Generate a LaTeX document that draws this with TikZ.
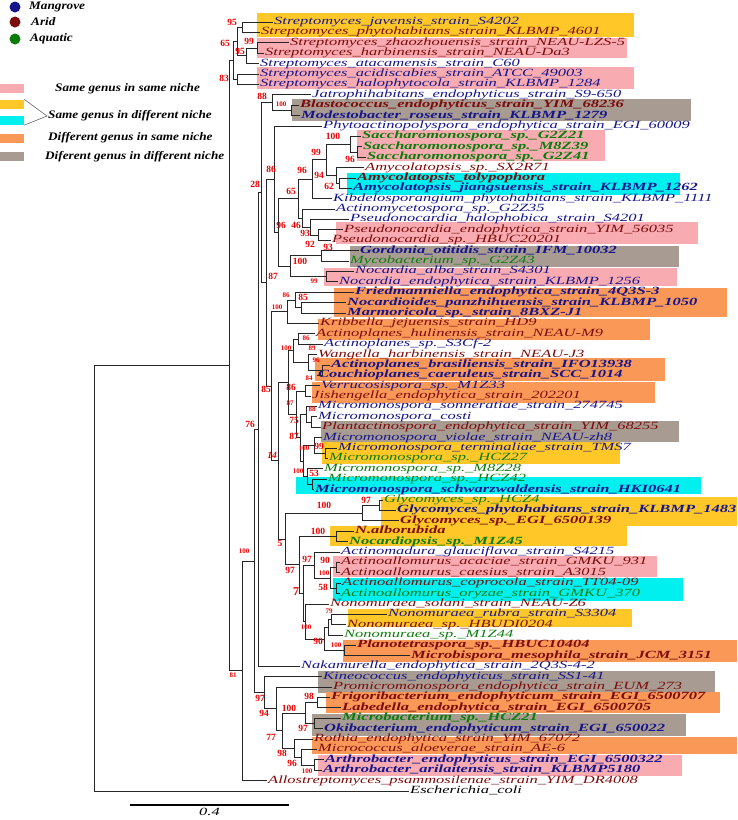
\documentclass[tikz,border=0pt]{standalone}
\usepackage{fontspec}
\setmainfont{Liberation Serif}
\newfontfamily\leaffont[FakeStretch=1.5]{Liberation Serif}
\newfontfamily\legfont[FakeStretch=1.15]{Liberation Serif}

\definecolor{mangrove}{RGB}{22,22,140}
\definecolor{arid}{RGB}{125,12,12}
\definecolor{aquatic}{RGB}{12,125,12}
\definecolor{bootred}{RGB}{235,0,0}
\definecolor{hlpink}{RGB}{248,172,178}
\definecolor{hlyellow}{RGB}{255,200,40}
\definecolor{hlcyan}{RGB}{0,240,240}
\definecolor{hlorange}{RGB}{250,152,88}
\definecolor{hlgray}{RGB}{168,155,145}

\tikzset{
  branch/.style={draw=black!85, line width=0.7pt},
  leaf/.style={anchor=west, inner xsep=1pt, inner ysep=0pt, text height=7pt, text depth=2pt,
    font=\leaffont\itshape\fontsize{11}{12}\selectfont},
  leafb/.style={leaf, font=\leaffont\bfseries\itshape\fontsize{11}{12}\selectfont},
  mg/.style={text=mangrove}, ar/.style={text=arid}, aq/.style={text=aquatic},
  boot/.style={text=bootred, inner sep=0pt, font=\bfseries\fontsize{9.5}{10}\selectfont},
  boots/.style={boot, font=\bfseries\fontsize{7}{8}\selectfont},
  legdot/.style={circle, inner sep=0pt, minimum size=11pt},
  legbox/.style={inner sep=0pt, minimum width=24pt, minimum height=9pt},
  legtext/.style={anchor=west, inner sep=0pt, font=\legfont\bfseries\itshape\fontsize{11.5}{12}\selectfont}
}

% clade: name, x of the node, first child, second child
\newcommand\clade[4]{%
  \path (#3) -- coordinate[midway] (mid#1) (#4);
  \coordinate (#1) at (mid#1 -| #2,0);
  \draw[branch] (#1) |- (#3);
  \draw[branch] (#1) |- (#4);}

\begin{document}
\begin{tikzpicture}[x=1pt,y=-1pt]
  \useasboundingbox (0,0) rectangle (737,820);

  % legend
  \node[legdot, fill=mangrove] (dotmg) at (15,7) {};
  \node[legdot, fill=arid] (dotar) at (15,22) {};
  \node[legdot, fill=aquatic] (dotaq) at (15,39) {};
  \node[legtext] (txtmg) at (29,7) {Mangrove};
  \node[legtext] (txtar) at (31,22) {Arid};
  \node[legtext] (txtaq) at (30,39) {Aquatic};
  \node[legbox, fill=hlpink] (boxpink) at (12,88.5) {};
  \node[legbox, fill=hlyellow] (boxyellow) at (12,104) {};
  \node[legbox, fill=hlcyan] (boxcyan) at (12,120.5) {};
  \node[legbox, fill=hlorange] (boxorange) at (12,138.5) {};
  \node[legbox, fill=hlgray] (boxgray) at (12,156.5) {};
  \coordinate (brtip) at (47,116);
  \draw[black!60, line width=0.6pt] (boxyellow.north east) -- (brtip) -- (boxcyan.south east);
  \node[legtext] (txtpink) at (55,88.7) {Same genus in same niche};
  \node[legtext] (txtsame) at (48,116) {Same genus in different niche};
  \node[legtext] (txtorange) at (48,138) {Different genus in same niche};
  \node[legtext] (txtgray) at (45,157) {Diferent genus in different niche};

  % highlight boxes
  \fill[hlyellow] (257,12.5) rectangle (634,37);
  \fill[hlpink] (257,37.5) rectangle (627,57.5);
  \fill[hlpink] (257,67) rectangle (634,89);
  \fill[hlgray] (292,99) rectangle (691,121);
  \fill[hlpink] (357,130) rectangle (605,161);
  \fill[hlcyan] (347,173) rectangle (680,195);
  \fill[hlpink] (336,222) rectangle (698,244);
  \fill[hlgray] (350,246) rectangle (679,267);
  \fill[hlpink] (324,268) rectangle (677,286);
  \fill[hlorange] (334,288) rectangle (727,317);
  \fill[hlorange] (318,319) rectangle (650,340);
  \fill[hlorange] (315,358) rectangle (665,381);
  \fill[hlorange] (312,382) rectangle (655,403);
  \fill[hlgray] (321,421) rectangle (679,442);
  \fill[hlyellow] (322,442) rectangle (620,464);
  \fill[hlcyan] (296,477) rectangle (701,494);
  \fill[hlyellow] (381,497) rectangle (737,526);
  \fill[hlyellow] (330,526) rectangle (627,546);
  \fill[hlpink] (333,556) rectangle (657,577);
  \fill[hlcyan] (333,578) rectangle (683,601);
  \fill[hlyellow] (348,609) rectangle (632,627);
  \fill[hlorange] (343,640) rectangle (737,662);
  \fill[hlgray] (318,671) rectangle (715,693);
  \fill[hlorange] (326,692) rectangle (720,713);
  \fill[hlgray] (312,714) rectangle (686,736);
  \fill[hlorange] (312,737) rectangle (737,754);
  \fill[hlpink] (318,755) rectangle (682,776);

  % leaves
  \node[leaf,mg] (javensis) at (273,22.0) {Streptomyces\_javensis\_strain\_S4202};
  \node[leaf,ar] (phytohab) at (260,32.4) {Streptomyces\_phytohabitans\_strain\_KLBMP\_4601};
  \node[leaf,ar] (zhaozh) at (289,42.8) {Streptomyces\_zhaozhouensis\_strain\_NEAU-LZS-5};
  \node[leaf,ar] (harbin) at (264,53.2) {Streptomyces\_harbinensis\_strain\_NEAU-Da3};
  \node[leaf,mg] (atacam) at (259,63.6) {Streptomyces\_atacamensis\_strain\_C60};
  \node[leaf,mg] (acidis) at (259,73.9) {Streptomyces\_acidiscabies\_strain\_ATCC\_49003};
  \node[leaf,mg] (halophy) at (259,84.3) {Streptomyces\_halophytocola\_strain\_KLBMP\_1284};
  \node[leaf,mg] (jatroph) at (311,94.7) {Jatrophihabitans\_endophyticus\_strain\_S9-650};
  \node[leafb,ar] (blasto) at (299,105.1) {Blastococcus\_endophyticus\_strain\_YIM\_68236};
  \node[leafb,mg] (modesto) at (300,115.5) {Modestobacter\_roseus\_strain\_KLBMP\_1279};
  \node[leaf,mg] (phytoact) at (322,125.9) {Phytoactinopolyspora\_endophytica\_strain\_EGI\_60009};
  \node[leafb,aq] (sacchA) at (361,136.3) {Saccharomonospora\_sp.\_G2Z21};
  \node[leafb,aq] (sacchB) at (362,146.7) {Saccharomonospora\_sp.\_M8Z39};
  \node[leafb,aq] (sacchC) at (366,157.1) {Saccharomonospora\_sp.\_G2Z41};
  \node[leaf,ar] (amycoA) at (364,167.5) {Amycolatopsis\_sp.\_SX2R71};
  \node[leafb,ar] (amycoB) at (356,177.9) {Amycolatopsis\_tolypophora};
  \node[leafb,mg] (amycoC) at (352,188.2) {Amycolatopsis\_jiangsuensis\_strain\_KLBMP\_1262};
  \node[leaf,mg] (kibdelo) at (332,198.6) {Kibdelosporangium\_phytohabitans\_strain\_KLBMP\_1111};
  \node[leaf,mg] (actmyc) at (335,209.0) {Actinomycetospora\_sp.\_G2Z35};
  \node[leaf,mg] (pseudoA) at (349,219.4) {Pseudonocardia\_halophobica\_strain\_S4201};
  \node[leaf,ar] (pseudoB) at (343,229.8) {Pseudonocardia\_endophytica\_strain\_YIM\_56035};
  \node[leaf,ar] (pseudoC) at (331,240.2) {Pseudonocardia\_sp.\_HBUC20201};
  \node[leafb,mg] (gordonia) at (359,250.6) {Gordonia\_otitidis\_strain\_IFM\_10032};
  \node[leaf,aq] (mycobac) at (349,261.0) {Mycobacterium\_sp.\_G2Z43};
  \node[leaf,mg] (nocardA) at (354,271.4) {Nocardia\_alba\_strain\_S4301};
  \node[leaf,mg] (nocardB) at (338,281.8) {Nocardia\_endophytica\_strain\_KLBMP\_1256};
  \node[leafb,mg] (friedm) at (354,292.2) {Friedmanniella\_endophytica\_strain\_4Q3S-3};
  \node[leafb,mg] (nocardioid) at (346,302.5) {Nocardioides\_panzhihuensis\_strain\_KLBMP\_1050};
  \node[leafb,mg] (marmor) at (346,312.9) {Marmoricola\_sp.\_strain\_8BXZ-J1};
  \node[leaf,ar] (kribbella) at (319,323.3) {Kribbella\_jejuensis\_strain\_HD9};
  \node[leaf,ar] (actplA) at (315,333.7) {Actinoplanes\_hulinensis\_strain\_NEAU-M9};
  \node[leaf,mg] (actplB) at (323,344.1) {Actinoplanes\_sp.\_S3Cf-2};
  \node[leaf,ar] (wangella) at (317,354.5) {Wangella\_harbinensis\_strain\_NEAU-J3};
  \node[leafb,mg] (actplC) at (330,364.9) {Actinoplanes\_brasiliensis\_strain\_IFO13938};
  \node[leafb,mg] (couchio) at (317,375.3) {Couchioplanes\_caeruleus\_strain\_SCC\_1014};
  \node[leaf,mg] (verruco) at (320,385.7) {Verrucosispora\_sp.\_M1Z33};
  \node[leaf,ar] (jisheng) at (311,396.1) {Jishengella\_endophytica\_strain\_202201};
  \node[leaf,mg] (micromA) at (317,406.4) {Micromonospora\_sonneratiae\_strain\_274745};
  \node[leaf,mg] (micromB) at (317,416.8) {Micromonospora\_costi};
  \node[leaf,ar] (plantact) at (321,427.2) {Plantactinospora\_endophytica\_strain\_YIM\_68255};
  \node[leaf,mg] (micromC) at (322,437.6) {Micromonospora\_violae\_strain\_NEAU-zh8};
  \node[leaf,mg] (micromD) at (337,448.0) {Micromonospora\_terminaliae\_strain\_TMS7};
  \node[leaf,aq] (micromE) at (328,458.4) {Micromonospora\_sp.\_HCZ27};
  \node[leaf,aq] (micromF) at (323,468.8) {Micromonospora\_sp.\_M8Z28};
  \node[leaf,aq] (micromG) at (327,479.2) {Micromonospora\_sp.\_HCZ42};
  \node[leafb,mg] (micromH) at (314,489.6) {Micromonospora\_schwarzwaldensis\_strain\_HKI0641};
  \node[leaf,aq] (glycoA) at (383,500.0) {Glycomyces\_sp.\_HCZ4};
  \node[leafb,mg] (glycoB) at (396,510.4) {Glycomyces\_phytohabitans\_strain\_KLBMP\_1483};
  \node[leafb,ar] (glycoC) at (399,520.8) {Glycomyces\_sp.\_EGI\_6500139};
  \node[leafb,ar] (nalbo) at (354,531.1) {N.alborubida};
  \node[leafb,aq] (nocardiop) at (348,541.5) {Nocardiopsis\_sp.\_M1Z45};
  \node[leaf,mg] (actmad) at (340,551.9) {Actinomadura\_glauciflava\_strain\_S4215};
  \node[leaf,ar] (actalA) at (340,562.3) {Actinoallomurus\_acaciae\_strain\_GMKU\_931};
  \node[leaf,ar] (actalB) at (340,572.7) {Actinoallomurus\_caesius\_strain\_A3015};
  \node[leaf,ar] (actalC) at (341,583.1) {Actinoallomurus\_coprocola\_strain\_TT04-09};
  \node[leaf,aq] (actalD) at (340,593.5) {Actinoallomurus\_oryzae\_strain\_GMKU\_370};
  \node[leaf,ar] (nonoA) at (329,603.9) {Nonomuraea\_solani\_strain\_NEAU-Z6};
  \node[leaf,mg] (nonoB) at (387,614.3) {Nonomuraea\_rubra\_strain\_S3304};
  \node[leaf,ar] (nonoC) at (346,624.7) {Nonomuraea\_sp.\_HBUDI0204};
  \node[leaf,aq] (nonoD) at (343,635.1) {Nonomuraea\_sp.\_M1Z44};
  \node[leafb,ar] (planotet) at (356,645.4) {Planotetraspora\_sp.\_HBUC10404};
  \node[leafb,ar] (microbisp) at (410,655.8) {Microbispora\_mesophila\_strain\_JCM\_3151};
  \node[leaf,mg] (nakamur) at (300,666.2) {Nakamurella\_endophytica\_strain\_2Q3S-4-2};
  \node[leaf,mg] (kineoc) at (322,676.6) {Kineococcus\_endophyticus\_strain\_SS1-41};
  \node[leaf,ar] (promicro) at (332,687.0) {Promicromonospora\_endophytica\_strain\_EUM\_273};
  \node[leafb,ar] (frigo) at (330,697.4) {Frigoribacterium\_endophyticum\_strain\_EGI\_6500707};
  \node[leafb,ar] (labedella) at (341,707.8) {Labedella\_endophytica\_strain\_EGI\_6500705};
  \node[leafb,aq] (microbac) at (341,718.2) {Microbacterium\_sp.\_HCZ21};
  \node[leafb,mg] (okibac) at (323,728.6) {Okibacterium\_endophyticum\_strain\_EGI\_650022};
  \node[leaf,ar] (rothia) at (313,739.0) {Rothia\_endophytica\_strain\_YIM\_67072};
  \node[leaf,ar] (micrococ) at (317,749.4) {Micrococcus\_aloeverae\_strain\_AE-6};
  \node[leafb,mg] (arthroA) at (324,759.7) {Arthrobacter\_endophyticus\_strain\_EGI\_6500322};
  \node[leafb,mg] (arthroB) at (322,770.1) {Arthrobacter\_arilaitensis\_strain\_KLBMP5180};
  \node[leaf,ar] (allostr) at (267,780.5) {Allostreptomyces\_psammosilenae\_strain\_YIM\_DR4008};
  \node[leaf] (ecoli) at (409,790.9) {Escherichia\_coli};

  % tree
  \clade{s95a}{242}{javensis.west}{phytohab.west}
  \clade{s99}{257}{zhaozh.west}{harbin.west}
  \clade{s95b}{246}{s99}{atacam.west}
  \clade{s65}{237}{s95a}{s95b}
  \clade{s83}{237}{acidis.west}{halophy.west}
  \clade{strep}{233}{s65}{s83}
  \clade{nA100}{291}{blasto.west}{modesto.west}
  \clade{nA88}{272}{jatroph.west}{nA100}
  \clade{nS96}{357}{sacchB.west}{sacchC.west}
  \clade{nS100}{350}{sacchA.west}{nS96}
  \clade{nAm62}{339}{amycoB.west}{amycoC.west}
  \clade{nAm94}{336}{amycoA.west}{nAm62}
  \clade{nB99}{326}{nS100}{nAm94}
  \clade{nB96}{312}{nB99}{kibdelo.west}
  \clade{nP93}{318}{pseudoB.west}{pseudoC.west}
  \clade{nP46}{310}{pseudoA.west}{nP93}
  \clade{nP}{302}{actmyc.west}{nP46}
  \clade{nB65}{298}{nB96}{nP}
  \clade{nC93}{321}{gordonia.west}{mycobac.west}
  \clade{nNoc}{326}{nocardA.west}{nocardB.west}
  \clade{nC100}{290}{nC93}{nNoc}
  \clade{n96c}{278}{nB65}{nC100}
  \clade{n86b}{274}{phytoact.west}{n96c}
  \clade{nF85}{301}{nocardioid.west}{marmor.west}
  \clade{nF86}{295}{friedm.west}{nF85}
  \clade{nF100}{287}{nF86}{kribbella.west}
  \clade{nD86}{298}{actplA.west}{actplB.west}
  \clade{nD96}{322}{actplC.west}{couchio.west}
  \clade{nD89}{308}{wangella.west}{nD96}
  \clade{nD100}{293}{nD86}{nD89}
  \clade{nV86}{305}{verruco.west}{jisheng.west}
  \clade{nM88}{311}{micromB.west}{plantact.west}
  \clade{nM75}{306}{micromA.west}{nM88}
  \clade{nM99}{325}{micromD.west}{micromE.west}
  \clade{nM100a}{314}{micromC.west}{nM99}
  \clade{nM100c}{312}{micromG.west}{micromH.west}
  \clade{nM53}{307}{micromF.west}{nM100c}
  \clade{nM100b}{303}{nM100a}{nM53}
  \clade{nM87}{300}{nM75}{nM100b}
  \clade{nVM87}{296}{nV86}{nM87}
  \clade{nDM}{288}{nD100}{nVM87}
  \clade{nG97}{379}{glycoA.west}{glycoB.west}
  \clade{nG100}{362}{nG97}{glycoC.west}
  \clade{nN100}{336}{nalbo.west}{nocardiop.west}
  \clade{nAa90}{336}{actalA.west}{actalB.west}
  \clade{nAa58}{336}{actalC.west}{actalD.west}
  \clade{nAa100}{330}{nAa90}{nAa58}
  \clade{nAa97}{314}{actmad.west}{nAa100}
  \clade{nNo79}{331}{nonoB.west}{nonoC.west}
  \clade{nNoA}{328}{nNo79}{nonoD.west}
  \clade{nPl100}{344}{planotet.west}{microbisp.west}
  \clade{nNo90}{324}{nNoA}{nPl100}
  \clade{nNo100}{305}{nonoA.west}{nNo90}
  \clade{n7}{303}{nAa97}{nNo100}
  \clade{n97b}{299}{nN100}{n7}
  \clade{n5}{285}{nG100}{n97b}
  \clade{n14}{278}{nDM}{n5}
  \clade{n85}{271}{nF100}{n14}
  \clade{n87}{266}{n86b}{n85}
  \clade{n28}{261}{nA88}{n87}
  \clade{n76}{258}{n28}{nakamur.west}
  \clade{n98f}{317}{frigo.west}{labedella.west}
  \clade{n97m}{314}{microbac.west}{okibac.west}
  \clade{n100m}{305}{n98f}{n97m}
  \clade{nArt}{314}{arthroA.west}{arthroB.west}
  \clade{n96a}{301}{micrococ.west}{nArt}
  \clade{n98r}{294}{rothia.west}{n96a}
  \clade{n77}{282}{n100m}{n98r}
  \clade{n94}{276}{promicro.west}{n77}
  \clade{n97k}{264}{kineoc.west}{n94}
  \clade{n100}{254}{n76}{n97k}
  \clade{n81}{242}{n100}{allostr.west}
  \clade{n229}{229}{strep}{n81}
  \clade{root}{94}{n229}{ecoli.west}

  % bootstrap values
  \foreach \x/\y/\t [count=\i] in {232/22/95, 225/43/65, 249/41/99, 240/51/95, 224/78/83, 262/96/88,
      333/136/100, 316/152/99, 350/159/96, 271/169/86, 302/170/96, 319/175/94, 255/184/28, 329/186/62,
      291/191/65, 281/225/96, 296/225/46, 305/233/93, 310/244/92, 328/247/93, 300/261/100, 273/276/87,
      303/297/85, 266/389/85, 291/387/86, 294/420/75, 250/424/76, 294/436/87, 319/446/99, 314/473/53,
      366/500/97, 324/505/100, 318/531/100, 280/543/5, 307/559/97, 325/560/90, 290/570/97, 323/587/58,
      318/641/90, 260/698/97, 309/696/98, 264/713/94, 289/708/100, 303/728/97, 271/737/77, 282/753/98,
      292/763/96}
    \node[boot] (bs\i) at (\x,\y) {\t};
  \foreach \x/\y/\t [count=\i] in {281/104/100, 314/281/99, 286/295/86, 277/307/100, 306/338/86,
      286/348/100, 312/348/89, 316/360/96, 309/378/84, 290/403/87, 312/409/88, 304/448/100, 298/471/100,
      244/551/100, 324/573/100, 329/611/79, 306/627/100, 336/645/100, 233/675/81, 307/771/100}
    \node[boots] (bt\i) at (\x,\y) {\t};
  \node[boot, font=\bfseries\fontsize{12}{12}\selectfont] (bseven) at (296,592) {7};
  \node[boot, font=\bfseries\itshape\fontsize{9.5}{10}\selectfont] (bfourteen) at (272,455) {14};

  % scale bar
  \coordinate (sbleft) at (130,805);
  \coordinate (sbright) at (289,805);
  \draw[line width=1.1pt] (sbleft) -- (sbright) node[midway, below=3pt, inner sep=0pt, font=\leaffont\itshape\fontsize{11}{12}\selectfont] (sblabel) {0.4};
\end{tikzpicture}
\end{document}
